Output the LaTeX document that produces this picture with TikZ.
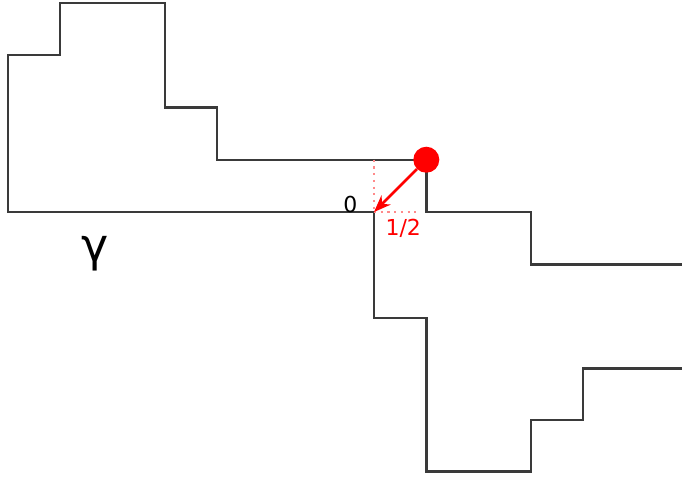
\documentclass[tikz,border=0pt]{standalone}
\usepackage{fontspec}
\setmainfont{DejaVu Sans}
\usetikzlibrary{arrows.meta}
\definecolor{pathgray}{HTML}{3A3A3A}
\definecolor{dotred}{HTML}{FF0000}
\definecolor{guidered}{HTML}{FF8A8A}
\begin{document}
\begin{tikzpicture}[x=52.3pt,y=52.3pt,
  walk/.style={draw=pathgray,line width=2.4pt,line join=miter},
  guide/.style={draw=guidered,line width=2.2pt,dash pattern=on 2.2pt off 4.5pt},
  jump/.style={draw=dotred,line width=2.6pt,-{Stealth[length=17pt,width=13pt]}},
  lbl/.style={inner sep=0pt,font=\fontsize{22}{22}\selectfont}]
\useasboundingbox (-7.151,4.054) rectangle (5.889,-5.124);
% upper walk
\draw[walk] (0,0) -- (-7,0) -- (-7,3) -- (-6,3) -- (-6,4) -- (-4,4) -- (-4,2)
  -- (-3,2) -- (-3,1) -- (1,1) -- (1,0) -- (3,0) -- (3,-1) -- (5.95,-1);
% lower walk
\draw[walk] (0,0) -- (0,-2.03) -- (1,-2.03) -- (1,-4.96) -- (3,-4.96) -- (3,-3.98) -- (4,-3.98)
  -- (4,-2.99) -- (5.95,-2.99);
\coordinate (O) at (0,0);
\coordinate (Otop) at (0,1);
\coordinate (Oright) at (0.85,0);
\node[circle,fill=dotred,minimum width=26pt,minimum height=26pt,inner sep=0pt] (dot) at (1,1) {};
\draw[guide] (Otop) -- (O);
\draw[guide] (O) -- (Oright);
\draw[jump] (dot) -- (O);
\node[lbl] (zero) at (-0.45,0.15) {0};
\node[lbl,text=dotred] (half) at (0.56,-0.31) {1/2};
\node[inner sep=0pt,font=\fontsize{46}{46}\selectfont] (gamma) at (-5.33,-0.8) {γ};
\end{tikzpicture}
\end{document}
